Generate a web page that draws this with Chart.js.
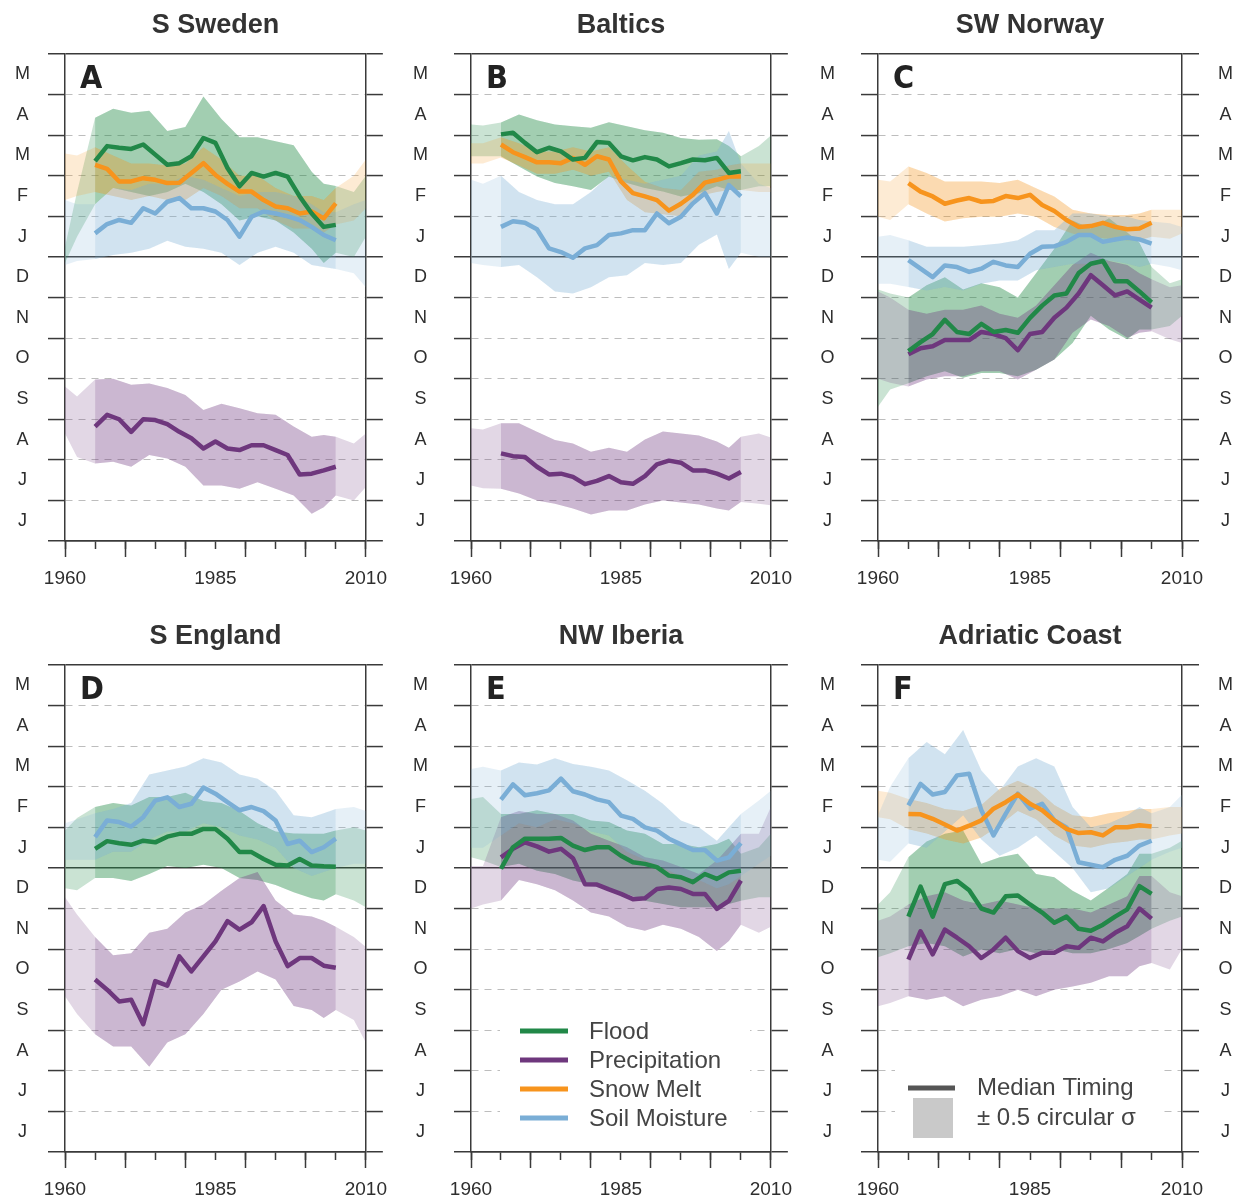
<!DOCTYPE html>
<html>
<head>
<meta charset="utf-8">
<script src="https://cdn.jsdelivr.net/npm/chart.js@4.4.0/dist/chart.umd.min.js"></script>
<style>
  body { margin: 0; background: #fff; }
  #wrap { position: relative; width: 1237px; height: 1200px; overflow: hidden; }
  #wrap canvas { position: absolute; }
</style>
</head>
<body>
<div id="wrap"></div>
<script>
// x positions of the median lines and of the +-0.5 sigma bands
const years = [1965, 1967, 1969, 1971, 1973, 1975, 1977, 1979, 1981, 1983, 1985,
               1987, 1989, 1991, 1993, 1995, 1997, 1999, 2001, 2003, 2005];
const bandYears = [1960, 1962, 1965, 1968, 1971, 1974, 1977, 1980, 1983, 1986,
                   1989, 1992, 1995, 1998, 2001, 2003, 2005, 2008, 2010];
// y is months from 1 January (0); labels sit mid-month, from June (bottom) to May (top)
const monthTicks = ['J', 'J', 'A', 'S', 'O', 'N', 'D', 'J', 'F', 'M', 'A', 'M'];
const xTickLabels = [1960, 1985, 2010];

// A  S Sweden
const sweFlood = [2.36, 2.73, 2.69, 2.66, 2.77, 2.52, 2.27, 2.31, 2.48, 2.93, 2.81, 2.19, 1.74, 2.07, 1.98, 2.07, 1.98, 1.49, 1.07, 0.74, 0.79];
const sweFloodHi = [0.25, 1.6, 3.43, 3.65, 3.55, 3.6, 3.1, 3.2, 3.95, 3.4, 2.95, 2.95, 2.85, 2.75, 2.1, 1.8, 1.75, 1.6, 2.0];
const sweFloodLo = [-0.15, 0.5, 1.3, 1.7, 1.6, 1.5, 1.6, 1.8, 1.6, 1.3, 0.9, 1.0, 0.9, 0.6, 0.2, -0.15, 0.1, 0.0, 0.5];
const sweSnow = [2.27, 2.17, 1.86, 1.86, 1.94, 1.9, 1.82, 1.83, 2.07, 2.31, 2.02, 1.8, 1.61, 1.61, 1.4, 1.24, 1.2, 1.07, 1.12, 0.95, 1.32];
const sweSnowHi = [2.55, 2.5, 2.7, 2.5, 2.3, 2.3, 2.25, 2.3, 2.7, 2.4, 2.0, 2.0, 1.7, 1.5, 1.5, 1.4, 1.7, 2.0, 2.4];
const sweSnowLo = [1.4, 1.5, 1.6, 1.5, 1.4, 1.5, 1.4, 1.4, 1.7, 1.5, 1.2, 1.2, 0.9, 0.7, 0.7, 0.6, 0.8, 0.9, 1.2];
const sweSoil = [0.58, 0.81, 0.91, 0.84, 1.2, 1.07, 1.36, 1.45, 1.2, 1.2, 1.12, 0.91, 0.5, 0.99, 1.12, 1.07, 1.0, 0.91, 0.74, 0.54, 0.41];
const sweSoilHi = [1.4, 1.3, 1.3, 1.7, 1.65, 1.8, 1.8, 2.0, 1.9, 1.7, 1.5, 1.6, 1.6, 1.5, 1.3, 1.1, 1.1, 1.3, 1.4];
const sweSoilLo = [-0.2, -0.1, -0.05, 0.05, 0.1, 0.2, 0.4, 0.25, 0.2, 0.1, -0.2, 0.1, 0.25, 0.1, -0.2, -0.25, -0.3, -0.4, -0.75];
const swePrecip = [-4.18, -3.89, -4.0, -4.31, -4.0, -4.02, -4.12, -4.31, -4.47, -4.72, -4.55, -4.72, -4.76, -4.64, -4.64, -4.76, -4.88, -5.36, -5.34, -5.26, -5.17];
const swePrecipHi = [-3.19, -3.44, -3.02, -3.0, -3.15, -3.12, -3.23, -3.4, -3.77, -3.62, -3.73, -3.85, -3.89, -4.18, -4.43, -4.39, -4.43, -4.6, -4.35];
const swePrecipLo = [-4.35, -4.93, -5.09, -5.05, -5.17, -4.88, -4.97, -5.17, -5.63, -5.63, -5.71, -5.55, -5.71, -5.88, -6.33, -6.17, -5.88, -6.0, -5.67];

// B  Baltics
const balFlood = [3.02, 3.06, 2.81, 2.58, 2.69, 2.6, 2.4, 2.44, 2.83, 2.81, 2.48, 2.38, 2.46, 2.4, 2.23, 2.31, 2.4, 2.38, 2.44, 2.07, 2.11];
const balFloodHi = [3.26, 3.24, 3.31, 3.51, 3.37, 3.26, 3.22, 3.18, 3.32, 3.22, 3.12, 3.06, 2.93, 2.89, 2.9, 2.73, 2.48, 2.73, 2.99];
const balFloodLo = [2.48, 2.48, 2.48, 2.23, 1.98, 1.82, 1.74, 1.65, 1.98, 1.82, 1.7, 1.61, 1.49, 1.57, 1.74, 1.65, 1.65, 1.74, 1.74];
const balSnow = [2.77, 2.58, 2.46, 2.33, 2.33, 2.31, 2.44, 2.27, 2.48, 2.4, 1.86, 1.57, 1.49, 1.4, 1.14, 1.31, 1.53, 1.83, 1.9, 1.98, 1.98];
const balSnowHi = [2.8, 2.8, 2.95, 2.8, 2.6, 2.6, 2.7, 2.6, 2.7, 2.25, 1.85, 1.7, 1.65, 2.1, 2.15, 2.25, 2.3, 2.3, 2.3];
const balSnowLo = [2.3, 2.3, 2.45, 2.25, 2.05, 2.05, 2.15, 2.0, 2.1, 1.4, 1.1, 1.05, 1.0, 1.5, 1.6, 1.65, 1.65, 1.6, 1.6];
const balSoil = [0.74, 0.88, 0.84, 0.68, 0.21, 0.12, -0.02, 0.21, 0.29, 0.54, 0.58, 0.66, 0.66, 1.07, 0.83, 0.99, 1.32, 1.57, 1.07, 1.77, 1.49];
const balSoilHi = [1.9, 1.8, 2.0, 1.6, 1.4, 1.3, 1.3, 1.6, 2.0, 1.9, 1.8, 1.9, 2.0, 2.5, 2.6, 3.1, 2.3, 1.8, 1.7];
const balSoilLo = [-0.15, -0.2, -0.25, -0.2, -0.5, -0.85, -0.9, -0.75, -0.5, -0.45, -0.15, -0.2, -0.15, 0.3, 0.55, -0.3, 0.1, 0.0, 0.0];
const balPrecip = [-4.84, -4.91, -4.93, -5.17, -5.36, -5.34, -5.42, -5.6, -5.52, -5.4, -5.55, -5.59, -5.4, -5.11, -5.02, -5.07, -5.26, -5.26, -5.34, -5.46, -5.3];
const balPrecipHi = [-4.22, -4.25, -4.1, -4.1, -4.31, -4.51, -4.6, -4.8, -4.7, -4.8, -4.5, -4.3, -4.35, -4.4, -4.55, -4.7, -4.43, -4.35, -4.45];
const balPrecipLo = [-5.63, -5.7, -5.71, -5.83, -6.0, -6.08, -6.2, -6.35, -6.25, -6.25, -6.1, -6.0, -6.05, -6.1, -6.2, -6.25, -6.04, -6.08, -6.12];

// C  SW Norway
const norFlood = [-2.32, -2.1, -1.9, -1.55, -1.85, -1.9, -1.65, -1.85, -1.8, -1.87, -1.5, -1.2, -0.95, -0.9, -0.4, -0.17, -0.1, -0.6, -0.6, -0.85, -1.12];
const norFloodHi = [-0.8, -0.9, -1.0, -0.7, -0.5, -0.8, -0.65, -0.75, -1.0, -0.4, 0.2, 0.9, 0.7, 0.95, 0.6, 0.35, -0.25, -0.65, -0.55];
const norFloodLo = [-3.69, -3.27, -3.11, -2.94, -2.82, -2.98, -2.86, -2.86, -2.94, -2.78, -2.53, -2.12, -1.45, -1.79, -2.03, -1.79, -1.79, -1.7, -1.45];
const norSnow = [1.82, 1.61, 1.49, 1.31, 1.39, 1.45, 1.36, 1.38, 1.5, 1.45, 1.53, 1.28, 1.13, 0.91, 0.74, 0.76, 0.84, 0.74, 0.68, 0.7, 0.84];
const norSnowHi = [1.9, 1.86, 2.23, 2.07, 1.86, 1.86, 1.86, 1.82, 1.9, 1.69, 1.49, 1.16, 1.07, 1.03, 1.03, 1.07, 1.16, 1.16, 1.16];
const norSnowLo = [0.99, 0.91, 1.3, 1.07, 0.87, 0.95, 0.99, 0.99, 1.07, 0.99, 0.74, 0.58, 0.5, 0.45, 0.41, 0.41, 0.5, 0.45, 0.58];
const norSoil = [-0.08, -0.29, -0.5, -0.21, -0.25, -0.37, -0.29, -0.12, -0.21, -0.25, 0.08, 0.25, 0.26, 0.37, 0.54, 0.54, 0.37, 0.43, 0.48, 0.43, 0.33];
const norSoilHi = [0.5, 0.54, 0.41, 0.25, 0.25, 0.25, 0.29, 0.33, 0.41, 0.66, 0.66, 1.07, 1.07, 0.99, 0.99, 0.91, 0.87, 0.83, 0.74];
const norSoilLo = [-0.66, -0.66, -0.74, -0.83, -0.74, -0.83, -0.66, -0.58, -0.58, -0.33, -0.25, -0.17, -0.17, -0.08, -0.17, -0.25, -0.17, -0.25, -0.33];
const norPrecip = [-2.4, -2.25, -2.2, -2.05, -2.05, -2.05, -1.85, -1.9, -2.0, -2.3, -1.9, -1.85, -1.5, -1.25, -0.9, -0.45, -0.7, -0.95, -0.85, -1.05, -1.25];
const norPrecipHi = [-0.85, -1.0, -1.3, -1.4, -1.3, -1.3, -1.2, -1.4, -1.5, -1.2, -0.7, -0.2, 0.1, -0.1, -0.2, -0.4, -0.55, -0.75, -0.7];
const norPrecipLo = [-3.0, -3.1, -3.19, -3.02, -2.94, -2.94, -2.82, -2.82, -3.02, -2.78, -2.53, -1.87, -1.54, -1.7, -1.99, -1.87, -1.83, -2.03, -2.12];

// D  S England
const engFlood = [0.47, 0.66, 0.61, 0.57, 0.67, 0.63, 0.77, 0.84, 0.84, 0.96, 0.96, 0.72, 0.39, 0.39, 0.22, 0.08, 0.06, 0.22, 0.06, 0.04, 0.03];
const engFloodHi = [0.92, 1.23, 1.5, 1.6, 1.54, 1.75, 1.75, 1.85, 1.65, 1.6, 1.4, 1.1, 0.9, 0.85, 0.84, 0.84, 0.92, 1.0, 0.92];
const engFloodLo = [-0.5, -0.55, -0.25, -0.25, -0.32, -0.15, 0.05, 0.0, 0.08, 0.0, -0.25, -0.3, -0.42, -0.6, -0.75, -0.8, -0.65, -0.8, -0.97];
const engSoil = [0.76, 1.17, 1.13, 1.02, 1.25, 1.66, 1.74, 1.5, 1.58, 1.98, 1.83, 1.62, 1.42, 1.5, 1.4, 1.17, 0.59, 0.67, 0.39, 0.51, 0.72];
const engSoilHi = [1.1, 1.2, 1.35, 1.45, 1.6, 2.3, 2.4, 2.5, 2.7, 2.6, 2.3, 2.2, 1.9, 1.3, 1.25, 1.35, 1.45, 1.5, 1.4];
const engSoilLo = [0.2, 0.2, 0.2, 0.4, 0.4, 0.7, 0.9, 0.9, 1.1, 1.0, 0.8, 0.7, 0.5, 0.0, -0.2, -0.1, 0.0, 0.1, 0.1];
const engPrecip = [-2.75, -3.0, -3.29, -3.25, -3.85, -2.79, -2.9, -2.18, -2.55, -2.18, -1.81, -1.31, -1.52, -1.34, -0.94, -1.81, -2.42, -2.22, -2.22, -2.41, -2.46];
const engPrecipHi = [-0.72, -1.15, -1.7, -2.15, -2.1, -1.6, -1.5, -1.1, -0.9, -0.56, -0.25, -0.1, -0.8, -1.15, -1.2, -1.3, -1.45, -1.7, -1.95];
const engPrecipLo = [-3.16, -3.6, -4.1, -4.4, -4.4, -4.9, -4.3, -4.1, -3.6, -3.0, -2.8, -2.55, -2.75, -3.4, -3.5, -3.7, -3.5, -3.75, -4.3];

// E  NW Iberia
const ibeFlood = [-0.02, 0.51, 0.72, 0.72, 0.72, 0.74, 0.55, 0.44, 0.51, 0.51, 0.3, 0.14, 0.1, 0.02, -0.19, -0.23, -0.35, -0.15, -0.27, -0.11, -0.07];
const ibeFloodHi = [1.7, 1.75, 1.33, 1.33, 1.42, 1.33, 1.33, 1.17, 1.13, 0.92, 0.84, 0.59, 0.59, 0.51, 0.59, 0.72, 0.35, 0.51, 0.84];
const ibeFloodLo = [0.26, 0.18, 0.02, 0.1, -0.07, -0.15, -0.31, -0.4, -0.56, -0.64, -0.81, -0.89, -0.97, -0.97, -0.97, -0.89, -0.81, -0.72, -0.72];
const ibeSoil = [1.68, 2.06, 1.79, 1.84, 1.91, 2.2, 1.89, 1.81, 1.69, 1.62, 1.29, 1.21, 1.0, 0.92, 0.72, 0.58, 0.44, 0.44, 0.18, 0.26, 0.61];
const ibeSoilHi = [2.44, 2.49, 2.4, 2.6, 2.55, 2.7, 2.56, 2.49, 2.4, 2.16, 1.9, 1.58, 1.17, 1.0, 0.67, 1.0, 1.33, 1.66, 1.9];
const ibeSoilLo = [0.5, 0.5, 0.8, 1.1, 1.0, 1.2, 1.1, 0.9, 0.8, 0.4, 0.2, 0.0, -0.2, -0.3, -0.5, -0.4, -0.2, 0.1, 0.3];
const ibePrecip = [0.26, 0.47, 0.63, 0.53, 0.4, 0.47, 0.24, -0.4, -0.41, -0.53, -0.64, -0.77, -0.75, -0.52, -0.48, -0.52, -0.64, -0.64, -1.01, -0.81, -0.31];
const ibePrecipHi = [0.05, 0.05, 1.25, 1.4, 1.33, 1.33, 1.17, 0.84, 0.67, 0.51, 0.26, 0.18, 0.02, -0.15, 0.18, 0.51, 0.84, 0.84, 1.5];
const ibePrecipLo = [-1.0, -0.9, -0.8, -0.3, -0.4, -0.55, -0.8, -1.1, -1.2, -1.45, -1.55, -1.4, -1.5, -1.7, -2.05, -1.8, -1.4, -1.6, -1.45];

// F  Adriatic Coast
const adrFlood = [-1.2, -0.46, -1.2, -0.4, -0.32, -0.55, -1.0, -1.1, -0.7, -0.68, -0.9, -1.1, -1.35, -1.2, -1.5, -1.55, -1.4, -1.2, -1.02, -0.45, -0.64];
const adrFloodHi = [-0.9, -0.6, 0.26, 0.65, 0.84, 0.92, 0.1, 0.26, 0.35, -0.15, -0.23, -0.56, -0.8, -0.48, -0.15, 0.35, 0.35, 0.5, 0.67];
const adrFloodLo = [-2.2, -2.1, -1.93, -1.85, -1.93, -2.18, -2.01, -2.1, -2.0, -2.1, -2.0, -2.1, -2.1, -2.0, -1.85, -1.68, -1.5, -1.3, -1.2];
const adrSnow = [1.33, 1.32, 1.21, 1.07, 0.92, 1.04, 1.17, 1.46, 1.62, 1.81, 1.58, 1.42, 1.17, 0.96, 0.86, 0.88, 0.8, 1.0, 1.0, 1.05, 1.02];
const adrSnowHi = [1.9, 1.85, 1.7, 1.6, 1.45, 1.4, 1.55, 1.95, 2.15, 1.95, 1.55, 1.3, 1.25, 1.35, 1.4, 1.45, 1.45, 1.5, 1.5];
const adrSnowLo = [1.25, 1.2, 0.95, 0.85, 0.7, 0.6, 0.75, 1.05, 1.4, 1.2, 0.8, 0.55, 0.5, 0.6, 0.65, 0.7, 0.7, 0.8, 0.85];
const adrSoil = [1.54, 2.07, 1.81, 1.87, 2.28, 2.32, 1.42, 0.8, 1.33, 1.83, 1.46, 1.58, 1.17, 1.0, 0.14, 0.08, 0.02, 0.2, 0.3, 0.55, 0.67];
const adrSoilHi = [1.3, 2.0, 2.7, 3.1, 2.8, 3.4, 2.4, 1.9, 2.5, 2.7, 2.5, 1.5, 1.0, 1.1, 1.3, 1.5, 1.35, 1.5, 1.8];
const adrSoilLo = [0.2, 0.15, 0.6, 0.5, 0.9, 1.3, 0.7, 0.3, 0.5, 0.8, 0.4, 0.0, -0.6, -0.5, -0.2, 0.0, 0.2, 0.4, 0.5];
const adrPrecip = [-2.26, -1.56, -2.13, -1.52, -1.72, -1.93, -2.22, -2.01, -1.72, -2.05, -2.22, -2.09, -2.09, -1.93, -1.97, -1.72, -1.81, -1.6, -1.44, -1.0, -1.25];
const adrPrecipHi = [-1.3, -1.2, -0.9, -0.7, -0.6, -0.8, -0.9, -0.8, -0.9, -1.0, -1.0, -1.0, -1.1, -0.9, -0.7, -0.2, -0.2, -0.6, -0.7];
const adrPrecipLo = [-3.41, -3.33, -3.16, -3.25, -3.16, -3.41, -3.25, -3.16, -3.0, -3.16, -3.0, -2.92, -2.83, -2.67, -2.67, -2.42, -2.34, -2.5, -2.0];

const FONT = '"Liberation Sans", Arial, Helvetica, sans-serif';
const COLORS = { flood: '33,136,72', precip: '110,55,125', snow: '247,148,29', soil: '122,174,214' };
const BAND_ALPHA = { flood: 0.24, precip: 0.2, snow: 0.19, soil: 0.19 };
const LINE_ORDER = { flood: 0, precip: 1, snow: 2, soil: 3 };
const LEGEND = [['flood', 'Flood'], ['precip', 'Precipitation'], ['snow', 'Snow Melt'], ['soil', 'Soil Moisture']];

// canvas boxes: columns and rows of the 3 x 2 grid
const COL_X = [0, 405, 810], COL_W = [405, 405, 427];
const AXIS_L = [65, 66, 68], AXIS_R = [37, 35, 55], PAD_L = [18, 26, 26];
const ROW_Y = [0, 611], ROW_H = [611, 589];
const PLOT_BOTTOM = 541;

const panels = [
  { title: 'S Sweden', letter: 'A', col: 0, row: 0, series: [
    ['soil', sweSoil, sweSoilHi, sweSoilLo], ['snow', sweSnow, sweSnowHi, sweSnowLo],
    ['precip', swePrecip, swePrecipHi, swePrecipLo], ['flood', sweFlood, sweFloodHi, sweFloodLo]] },
  { title: 'Baltics', letter: 'B', col: 1, row: 0, series: [
    ['soil', balSoil, balSoilHi, balSoilLo], ['snow', balSnow, balSnowHi, balSnowLo],
    ['precip', balPrecip, balPrecipHi, balPrecipLo], ['flood', balFlood, balFloodHi, balFloodLo]] },
  { title: 'SW Norway', letter: 'C', col: 2, row: 0, series: [
    ['soil', norSoil, norSoilHi, norSoilLo], ['snow', norSnow, norSnowHi, norSnowLo],
    ['precip', norPrecip, norPrecipHi, norPrecipLo], ['flood', norFlood, norFloodHi, norFloodLo]] },
  { title: 'S England', letter: 'D', col: 0, row: 1, series: [
    ['soil', engSoil, engSoilHi, engSoilLo],
    ['precip', engPrecip, engPrecipHi, engPrecipLo], ['flood', engFlood, engFloodHi, engFloodLo]] },
  { title: 'NW Iberia', letter: 'E', col: 1, row: 1, legend: 'series', series: [
    ['soil', ibeSoil, ibeSoilHi, ibeSoilLo],
    ['precip', ibePrecip, ibePrecipHi, ibePrecipLo], ['flood', ibeFlood, ibeFloodHi, ibeFloodLo]] },
  { title: 'Adriatic Coast', letter: 'F', col: 2, row: 1, legend: 'key', series: [
    ['soil', adrSoil, adrSoilHi, adrSoilLo], ['snow', adrSnow, adrSnowHi, adrSnowLo],
    ['precip', adrPrecip, adrPrecipHi, adrPrecipLo], ['flood', adrFlood, adrFloodHi, adrFloodLo]] }
];

function pts(xs, ys) {
  return xs.map((x, i) => ({ x: x, y: ys[i] }));
}

function seriesSets(key, mid, hi, lo) {
  const fillCol = `rgba(${COLORS[key]},${BAND_ALPHA[key]})`;
  const edge = { borderColor: 'rgba(0,0,0,0)', borderWidth: 0, pointRadius: 0, order: 10, xAxisID: 'x', yAxisID: 'y' };
  const inner = p => p.x >= 1965 && p.x <= 2005;
  const loP = pts(bandYears, lo), hiP = pts(bandYears, hi);
  return [
    { ...edge, data: loP, fill: false },
    { ...edge, data: hiP, fill: '-1', backgroundColor: fillCol },
    { ...edge, data: loP.filter(inner), fill: false },
    { ...edge, data: hiP.filter(inner), fill: '-1', backgroundColor: fillCol },
    { data: pts(years, mid), borderColor: `rgb(${COLORS[key]})`, borderWidth: 4.5, pointRadius: 0,
      fill: false, order: LINE_ORDER[key], xAxisID: 'x', yAxisID: 'y', borderJoinStyle: 'round' }
  ];
}

const isFrame = v => v === 0 || v === 5 || v === -7;
const yTickVals = [];
for (let i = 0; i <= 24; i++) yTickVals.push(-7 + i * 0.5);

function monthLabel(v) {
  if (Number.isInteger(v)) return '';
  return monthTicks[Math.floor(v + 7)];
}

function yAxis(position, col, showLabels) {
  const left = position === 'left';
  return {
    type: 'linear', position: position, min: -7, max: 5,
    afterBuildTicks: s => { s.ticks = yTickVals.map(v => ({ value: v })); },
    afterFit: s => { s.width = left ? AXIS_L[col] : AXIS_R[col]; },
    ticks: { display: showLabels, autoSkip: false, crossAlign: 'center', padding: left ? PAD_L[col] : 19,
             color: '#2e2e2e', font: { size: 18, family: FONT }, callback: v => monthLabel(v) },
    grid: {
      drawOnChartArea: left, tickLength: 17, tickWidth: 1.5,
      color: c => {
        const v = c.tick ? c.tick.value : 0.5;
        if (!Number.isInteger(v)) return 'rgba(0,0,0,0)';
        return isFrame(v) ? '#3a3a3a' : '#bdbdbd';
      },
      lineWidth: c => (c.tick && isFrame(c.tick.value)) ? 1.5 : 1.1,
      tickColor: c => (c.tick && Number.isInteger(c.tick.value)) ? '#3a3a3a' : 'rgba(0,0,0,0)'
    },
    border: { display: true, color: '#3a3a3a', width: 1.5,
              dash: c => (c.tick && Number.isInteger(c.tick.value) && !isFrame(c.tick.value)) ? [7, 6] : [] }
  };
}

const decor = {
  id: 'decor',
  afterDraw(chart, args, opts) {
    const { ctx, chartArea: a } = chart;
    ctx.save();
    ctx.fillStyle = '#222';
    ctx.textBaseline = 'alphabetic';
    ctx.textAlign = 'left';
    ctx.font = 'bold 32px "Liberation Sans Narrow", "DejaVu Sans Condensed", ' + FONT;
    ctx.fillText(opts.letter, a.left + 15, a.top + 34);

    ctx.font = '24px ' + FONT;
    ctx.textBaseline = 'middle';
    if (opts.legend === 'series') {
      ctx.fillStyle = '#fff';
      ctx.fillRect(a.left + 29, a.top + 343, 250, 127);
      LEGEND.forEach(([key, label], i) => {
        const y = a.top + 366 + i * 29;
        ctx.strokeStyle = `rgb(${COLORS[key]})`;
        ctx.lineWidth = 5;
        ctx.beginPath();
        ctx.moveTo(a.left + 49, y);
        ctx.lineTo(a.left + 97, y);
        ctx.stroke();
        ctx.fillStyle = '#444';
        ctx.fillText(label, a.left + 118, y + 1);
      });
    }
    if (opts.legend === 'key') {
      ctx.fillStyle = '#fff';
      ctx.fillRect(a.left + 17, a.top + 385, 266, 92);
      ctx.strokeStyle = '#555';
      ctx.lineWidth = 5;
      ctx.beginPath();
      ctx.moveTo(a.left + 30, a.top + 423);
      ctx.lineTo(a.left + 77, a.top + 423);
      ctx.stroke();
      ctx.fillStyle = '#c9c9c9';
      ctx.fillRect(a.left + 35, a.top + 433, 40, 40);
      ctx.fillStyle = '#444';
      ctx.fillText('Median Timing', a.left + 99, a.top + 423);
      ctx.fillText('\u00b1 0.5 circular \u03c3', a.left + 99, a.top + 453);
    }
    ctx.restore();
  }
};

const wrap = document.getElementById('wrap');
Chart.defaults.font.family = FONT;

panels.forEach(p => {
  const canvas = document.createElement('canvas');
  canvas.width = COL_W[p.col];
  canvas.height = ROW_H[p.row];
  canvas.style.left = COL_X[p.col] + 'px';
  canvas.style.top = ROW_Y[p.row] + 'px';
  wrap.appendChild(canvas);

  const datasets = [];
  p.series.forEach(s => datasets.push(...seriesSets(s[0], s[1], s[2], s[3])));

  new Chart(canvas, {
    type: 'line',
    data: { datasets: datasets },
    plugins: [decor],
    options: {
      responsive: false, maintainAspectRatio: false, animation: false, events: [],
      layout: { padding: 0 },
      plugins: {
        legend: { display: false },
        tooltip: { enabled: false },
        title: { display: true, text: p.title, fullSize: false, color: '#333',
                 font: { size: 27, weight: 'bold', family: FONT, lineHeight: 1.2 },
                 padding: { top: 9, bottom: 12.6 } },
        decor: { letter: p.letter, legend: p.legend }
      },
      scales: {
        x10: {
          type: 'linear', position: 'bottom', weight: 0, min: 1960, max: 2010,
          ticks: { display: false, stepSize: 10 },
          grid: { drawOnChartArea: false, tickLength: 16, tickWidth: 1.5, tickColor: '#3a3a3a', color: '#3a3a3a' },
          border: { display: false },
          afterFit: s => { s.height = 0; }
        },
        x: {
          type: 'linear', position: 'bottom', weight: 1, min: 1960, max: 2010,
          ticks: { stepSize: 5, autoSkip: false, maxRotation: 0, padding: 18, color: '#2e2e2e',
                   font: { size: 19, family: FONT },
                   callback: v => xTickLabels.includes(v) ? String(v) : '' },
          grid: { drawOnChartArea: false, tickLength: 8, tickWidth: 1.5, tickColor: '#3a3a3a', color: '#3a3a3a' },
          border: { display: true, color: '#3a3a3a', width: 1.5 },
          afterFit: s => { s.height = ROW_H[p.row] - PLOT_BOTTOM; }
        },
        y: yAxis('left', p.col, true),
        y2: yAxis('right', p.col, p.col === 2)
      }
    }
  });
});
</script>
</body>
</html>
